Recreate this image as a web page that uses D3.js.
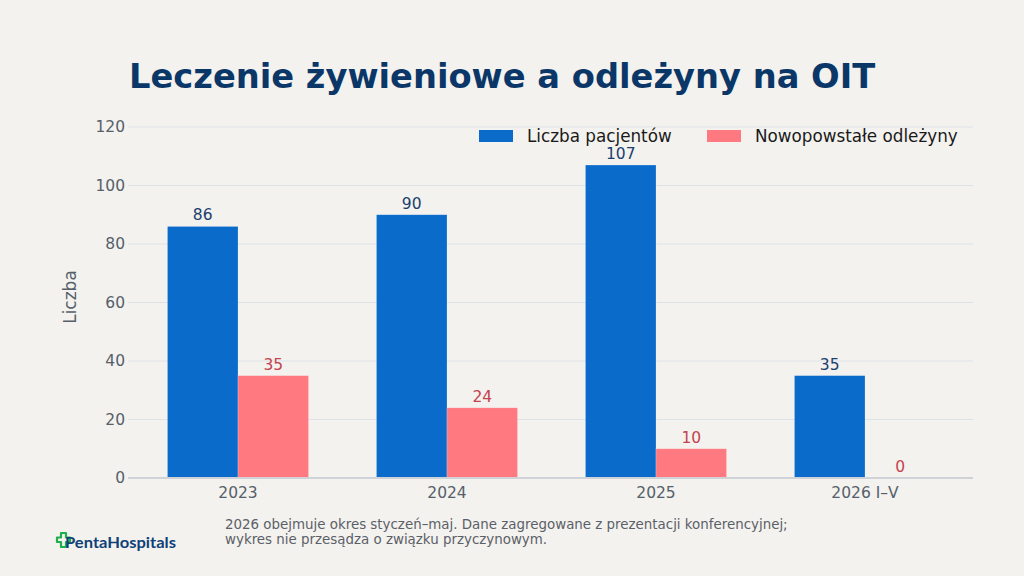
<!DOCTYPE html>
<html>
<head>
<meta charset="utf-8">
<script src="https://cdn.jsdelivr.net/npm/d3@7"></script>
<style>
  html, body { margin: 0; padding: 0; background: #f3f2ee; }
  svg { display: block; font-family: "DejaVu Sans", sans-serif; }
</style>
</head>
<body>
<div id="chart"></div>
<script>
// chart data
const categories = ['2023', '2024', '2025', '2026 I–V']
const patients = [86, 90, 107, 35]
const ulcers = [35, 24, 10, 0]
const seriesNames = ['Liczba pacjentów', 'Nowopowstałe odleżyny']
const yTicks = [0, 20, 40, 60, 80, 100, 120]

const W = 1024, H = 576
const colors = { patients: '#0a6bcb', ulcers: '#ff7a80' }
const labelColors = { patients: '#1b3f6e', ulcers: '#c4434f' }

const svg = d3.select('#chart').append('svg')
  .attr('width', W).attr('height', H)
  .attr('viewBox', [0, 0, W, H])

svg.append('rect').attr('width', W).attr('height', H).attr('fill', '#f3f2ee')

// scales
const y = d3.scaleLinear().domain([0, 120]).range([478, 127])
const x = d3.scaleBand().domain(categories)
  .range([133.5, 969.5]).paddingInner(0.325).paddingOuter(0.1625)
const xs = d3.scaleBand().domain(['patients', 'ulcers']).range([0, x.bandwidth()])

const gridLeft = 128, gridRight = 973

// gridlines
svg.append('g').selectAll('line')
  .data(yTicks.filter(d => d > 0)).join('line')
  .attr('x1', gridLeft).attr('x2', gridRight)
  .attr('y1', d => y(d)).attr('y2', d => y(d))
  .attr('stroke', '#dde2e8').attr('stroke-width', 1)

// y tick labels
const yAxis = svg.append('g')
  .attr('transform', `translate(${gridLeft},0)`)
  .call(d3.axisLeft(y).tickValues(yTicks).tickSize(0).tickPadding(3))
yAxis.select('.domain').remove()
yAxis.selectAll('text')
  .attr('font-family', '"DejaVu Sans", sans-serif')
  .attr('font-size', 15.5).attr('fill', '#56606b')

// bars
const groups = svg.append('g').selectAll('g')
  .data(categories.map((c, i) => ({ c, patients: patients[i], ulcers: ulcers[i] })))
  .join('g')
  .attr('transform', d => `translate(${x(d.c)},0)`)

;['patients', 'ulcers'].forEach(key => {
  groups.append('rect')
    .attr('x', xs(key)).attr('width', xs.bandwidth())
    .attr('y', d => y(d[key])).attr('height', d => y(0) - y(d[key]))
    .attr('fill', colors[key])
    .attr('stroke', d => d[key] > 0 ? 'rgba(255,255,255,0.35)' : 'none')
    .attr('stroke-width', 0.6)
  groups.append('text')
    .attr('x', xs(key) + xs.bandwidth() / 2)
    .attr('y', d => y(d[key]) - 6)
    .attr('text-anchor', 'middle')
    .attr('font-size', 15.5)
    .attr('fill', labelColors[key])
    .text(d => d[key])
})

// zero line
svg.append('line')
  .attr('x1', gridLeft).attr('x2', gridRight)
  .attr('y1', y(0)).attr('y2', y(0))
  .attr('stroke', '#cfd3d8').attr('stroke-width', 2)

// x axis labels
const xAxis = svg.append('g')
  .attr('transform', `translate(0,${y(0)})`)
  .call(d3.axisBottom(x).tickSize(0).tickPadding(9))
xAxis.select('.domain').remove()
xAxis.selectAll('text')
  .attr('font-family', '"DejaVu Sans", sans-serif')
  .attr('font-size', 15.5).attr('fill', '#56606b')

// y axis title
svg.append('text')
  .attr('transform', 'translate(76,297) rotate(-90)')
  .attr('text-anchor', 'middle')
  .attr('font-size', 17).attr('fill', '#56606b')
  .text('Liczba')

// title
svg.append('text')
  .attr('x', 129).attr('y', 88)
  .attr('font-size', 33.7).attr('font-weight', 'bold')
  .attr('fill', '#0b3768')
  .text('Leczenie żywieniowe a odleżyny na OIT')

// legend
const legend = svg.append('g')
const legendX = [479, 707]
;['patients', 'ulcers'].forEach((key, i) => {
  legend.append('rect')
    .attr('x', legendX[i]).attr('y', 130)
    .attr('width', 34).attr('height', 12)
    .attr('fill', colors[key])
  legend.append('text')
    .attr('x', legendX[i] + 48).attr('y', 142)
    .attr('font-size', 16.8).attr('fill', '#1a1a1a')
    .text(seriesNames[i])
})

// footnote
const note = svg.append('text')
  .attr('x', 225).attr('y', 529)
  .attr('font-size', 13.4).attr('fill', '#5b6068')
note.append('tspan').attr('x', 225).text('2026 obejmuje okres styczeń–maj. Dane zagregowane z prezentacji konferencyjnej;')
note.append('tspan').attr('x', 225).attr('dy', 15).text('wykres nie przesądza o związku przyczynowym.')

// logo
const logo = svg.append('g').attr('transform', 'translate(57,533)')
logo.append('path')
  .attr('d', 'M4,0 H9 V4.5 H13 V9 H9 V14 H4 V9 H0 V4.5 H4 Z')
  .attr('fill', 'none').attr('stroke', '#1fae4b').attr('stroke-width', 2.2)
  .attr('stroke-linejoin', 'round')
logo.append('text')
  .attr('x', 8).attr('y', 15)
  .attr('font-family', 'Lato, "Open Sans", sans-serif')
  .attr('font-weight', 'bold').attr('font-size', 14.5)
  .attr('textLength', 111).attr('lengthAdjust', 'spacingAndGlyphs')
  .attr('fill', '#0f3f78')
  .text('PentaHospitals')
</script>
</body>
</html>
